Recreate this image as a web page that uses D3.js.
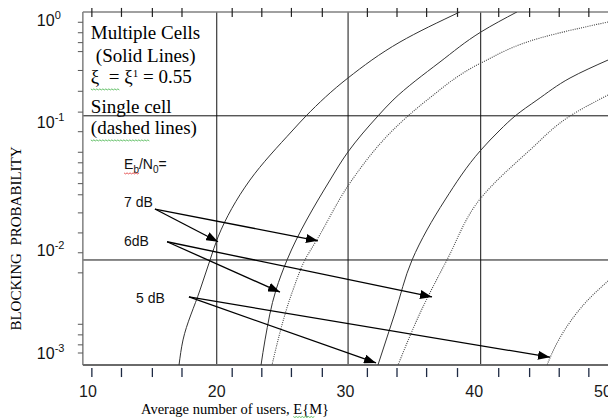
<!DOCTYPE html>
<html>
<head>
<meta charset="utf-8">
<script src="https://cdn.jsdelivr.net/npm/d3@7"></script>
<style>
  body { margin: 0; background: #fff; }
  svg { display: block; }
  .serif { font-family: "Liberation Serif", "Times New Roman", serif; }
  .sans { font-family: "Liberation Sans", Arial, sans-serif; }
</style>
</head>
<body>
<div id="chart"></div>
<script>
// values
var xTickValues = [10, 20, 30, 40, 50];
var xMinorTicks = [10.3, 12.6, 15.0, 17.3, 21.2, 23.5, 25.8, 28.2, 31.7, 34.0, 36.3, 38.7, 41.9, 44.3, 46.6, 48.9];
var xGrid = [20, 30.2, 40.5];
var xExtent = [9.6, 50.4];

var yTickValues = [1, 0.1, 0.01, 0.001];
var yTickExps = ["0", "-1", "-2", "-3"];
var yMinorTicks = [0.95, 0.75, 0.6, 0.49, 0.32, 0.2, 0.125, 0.084, 0.058, 0.048, 0.04, 0.033, 0.027,
                   0.0195, 0.0136, 0.0094, 0.006, 0.0019, 0.0015, 0.0012, 0.001];
var yGrid = [0.115, 0.008];
var yExtent = [1.2, 0.000764];

// multiple cells (solid)
var multi7X = [17.07, 17.38, 18.70, 19.48, 20.10, 22.58, 25.92, 26.93, 30.19, 34.23, 38.89];
var multi7Y = [0.000764, 0.00134, 0.00409, 0.008, 0.01265, 0.0352, 0.0866, 0.1145, 0.27, 0.608, 1.2];
var multi6X = [23.44, 23.75, 24.60, 25.46, 28.80, 30.19, 32.52, 33.69, 37.34, 40.52, 43.32];
var multi6Y = [0.000764, 0.00134, 0.00409, 0.008, 0.0352, 0.0583, 0.1145, 0.164, 0.388, 0.763, 1.2];
var multi5X = [32.52, 33.84, 35.17, 37.73, 40.52, 42.0, 43.17, 44.87, 47.44, 50.39];
var multi5Y = [0.000764, 0.00244, 0.008, 0.0246, 0.0604, 0.0866, 0.1145, 0.164, 0.27, 0.405];

// single cell (dotted)
var single7X = [24.29, 25.92, 26.85, 27.86, 30.50, 33.69, 34.85, 36.33, 40.52, 45.11, 50.39];
var single7Y = [0.000764, 0.00409, 0.008, 0.0124, 0.0352, 0.0866, 0.1145, 0.164, 0.379, 0.666, 0.956];
var single6X = [34.08, 35.79, 37.88, 40.52, 44.33, 47.44, 50.39];
var single6Y = [0.000764, 0.00244, 0.008, 0.0255, 0.0604, 0.1145, 0.184];
var single5X = [45.65, 46.43, 47.44, 48.83, 50.39];
var single5Y = [0.000764, 0.00125, 0.002, 0.00327, 0.005];

// Eb/N0 annotations
var arrowLabels = ["7 dB", "6dB", "5 dB"];
var labelAt = [[12.8, 0.0217], [12.8, 0.0107], [13.73, 0.00305]];
var arrowFrom = [[15.2, 0.0209], [16.14, 0.0116], [17.84, 0.0035]];
var arrowTo = [[[20.1, 0.0116], [27.86, 0.0118]],
               [[24.91, 0.0039], [36.72, 0.0035]],
               [[32.37, 0.0008], [45.88, 0.00091]]];
var ebLabelAt = [12.8, 0.043];

var series = [
  {xs: multi7X, ys: multi7Y, dotted: false},
  {xs: multi6X, ys: multi6Y, dotted: false},
  {xs: multi5X, ys: multi5Y, dotted: false},
  {xs: single7X, ys: single7Y, dotted: true},
  {xs: single6X, ys: single6Y, dotted: true},
  {xs: single5X, ys: single5Y, dotted: true}
];

var width = 608, height = 418;

var x = d3.scaleLinear().domain([10, 50]).range([88, 603]);
// tick labels sit unevenly in the source, so the log scale is piecewise
var y = d3.scaleLog().domain(yTickValues).range([20, 122, 250, 353]);

var plotL = x(xExtent[0]), plotR = x(xExtent[1]);
var plotT = y(yExtent[0]), plotB = y(yExtent[1]);

var svg = d3.select("#chart").append("svg")
    .attr("width", width)
    .attr("height", height);

svg.append("rect").attr("width", width).attr("height", height).attr("fill", "#fff");

var defs = svg.append("defs");
defs.append("clipPath").attr("id", "plotclip")
  .append("rect")
    .attr("x", plotL).attr("y", plotT)
    .attr("width", plotR - plotL).attr("height", plotB - plotT);

defs.append("marker")
    .attr("id", "head")
    .attr("markerUnits", "userSpaceOnUse")
    .attr("markerWidth", 12).attr("markerHeight", 9)
    .attr("refX", 12).attr("refY", 4.5)
    .attr("orient", "auto")
  .append("path")
    .attr("d", "M0,0L12,4.5L0,9Z")
    .attr("fill", "#000");

// grid lines
svg.selectAll(".vgrid").data(xGrid).enter().append("line")
    .attr("class", "vgrid")
    .attr("x1", d => x(d)).attr("x2", d => x(d))
    .attr("y1", plotT).attr("y2", plotB)
    .attr("stroke", "#111").attr("stroke-width", 1);

svg.selectAll(".hgrid").data(yGrid).enter().append("line")
    .attr("class", "hgrid")
    .attr("x1", plotL).attr("x2", plotR)
    .attr("y1", d => y(d)).attr("y2", d => y(d))
    .attr("stroke", "#111").attr("stroke-width", 1);

// frame
svg.append("line").attr("x1", plotL).attr("x2", plotR).attr("y1", plotT).attr("y2", plotT)
    .attr("stroke", "#808080").attr("stroke-width", 1.5);
svg.append("line").attr("x1", plotL).attr("x2", plotL).attr("y1", plotT).attr("y2", plotB)
    .attr("stroke", "#808080").attr("stroke-width", 1.5);
svg.append("line").attr("x1", plotL).attr("x2", plotR).attr("y1", plotB).attr("y2", plotB)
    .attr("stroke", "#6a6a6a").attr("stroke-width", 2);

// ticks on top and below the bottom edge
svg.selectAll(".ttick").data(xMinorTicks).enter().append("line")
    .attr("x1", d => x(d)).attr("x2", d => x(d))
    .attr("y1", plotT - 4).attr("y2", plotT + 5)
    .attr("stroke", "#222").attr("stroke-width", 1.2);
svg.selectAll(".btick").data(xMinorTicks).enter().append("line")
    .attr("x1", d => x(d)).attr("x2", d => x(d))
    .attr("y1", plotB + 3).attr("y2", plotB + 12)
    .attr("stroke", "#1e2a44").attr("stroke-width", 1.3);

// left minor ticks
svg.selectAll(".ltick").data(yMinorTicks).enter().append("line")
    .attr("x1", plotL - 5).attr("x2", plotL)
    .attr("y1", d => y(d)).attr("y2", d => y(d))
    .attr("stroke", "#555").attr("stroke-width", 1);

// x tick labels
svg.selectAll(".xlab").data(xTickValues).enter().append("text")
    .attr("class", "sans")
    .attr("x", d => x(d)).attr("y", plotB + 32)
    .attr("text-anchor", "middle")
    .attr("font-size", 16).attr("fill", "#1a1a1a")
    .text(d => d);

// y tick labels as 10^n
var ylab = svg.selectAll(".ylab").data(yTickValues).enter().append("text")
    .attr("class", "sans")
    .attr("x", plotL - 46).attr("y", d => y(d) + 6)
    .attr("font-size", 16).attr("fill", "#111");
ylab.append("tspan").text("10");
ylab.append("tspan").attr("dy", -7).attr("font-size", 11).text((d, i) => yTickExps[i]);

// curves: monotone in y gives the smooth arcs of the source
var line = d3.line()
    .x(d => x(d[0]))
    .y(d => y(d[1]))
    .curve(d3.curveMonotoneY);

var plot = svg.append("g").attr("clip-path", "url(#plotclip)");
plot.selectAll(".curve").data(series).enter().append("path")
    .attr("class", "curve")
    .attr("d", s => line(s.xs.map((v, i) => [v, s.ys[i]]).reverse()))
    .attr("fill", "none")
    .attr("stroke", s => s.dotted ? "#444" : "#333")
    .attr("stroke-width", s => s.dotted ? 1.1 : 1)
    .attr("stroke-dasharray", s => s.dotted ? "1,1.2" : null);

// arrows
arrowTo.forEach(function(ends, i) {
  ends.forEach(function(e) {
    svg.append("line")
        .attr("x1", x(arrowFrom[i][0])).attr("y1", y(arrowFrom[i][1]))
        .attr("x2", x(e[0])).attr("y2", y(e[1]))
        .attr("stroke", "#000").attr("stroke-width", 1.3)
        .attr("marker-end", "url(#head)");
  });
});

svg.selectAll(".alab").data(arrowLabels).enter().append("text")
    .attr("class", "sans")
    .attr("x", (d, i) => x(labelAt[i][0])).attr("y", (d, i) => y(labelAt[i][1]))
    .attr("font-size", 14).attr("fill", "#111")
    .text(d => d);

// wavy underline helper (spell-check marks in the source)
function squiggle(x0, x1, yy, color) {
  var pts = [];
  for (var px = x0, k = 0; px <= x1; px += 1.5, k++) pts.push([px, yy + (k % 2 ? 1 : 0)]);
  svg.append("path").attr("d", d3.line()(pts))
      .attr("fill", "none").attr("stroke", color).attr("stroke-width", 0.8);
}

var eb = svg.append("text").attr("class", "sans")
    .attr("x", x(ebLabelAt[0])).attr("y", y(ebLabelAt[1]))
    .attr("font-size", 14).attr("fill", "#111");
var ebE = eb.append("tspan").text("E");
var ebB = eb.append("tspan").attr("dy", 4).attr("font-size", 10).text("b");
eb.append("tspan").attr("dy", -4).text("/N");
eb.append("tspan").attr("dy", 4).attr("font-size", 10).text("0");
eb.append("tspan").attr("dy", -4).text("=");
var bE = ebE.node().getBBox(), bB = ebB.node().getBBox();
squiggle(bE.x, bB.x + bB.width, y(ebLabelAt[1]) + 4, "#e03030");

// legend block
var lx = plotL + 8;
var legend = svg.append("g").attr("class", "serif").attr("font-size", 19).attr("fill", "#000");
legend.append("text").attr("x", lx).attr("y", plotT + 27).text("Multiple Cells");
legend.append("text").attr("x", lx + 5).attr("y", plotT + 50).text("(Solid Lines)");
var xi = legend.append("text").attr("x", lx).attr("y", plotT + 71).style("white-space", "pre");
var xiA = xi.append("tspan").text("\u03be  =");
xi.append("tspan").text(" \u03be");
xi.append("tspan").attr("dy", -6).attr("font-size", 11).text("1");
xi.append("tspan").attr("dy", 6).text(" = 0.55");
legend.append("text").attr("x", lx).attr("y", plotT + 101).text("Single cell");
var dl = legend.append("text").attr("x", lx).attr("y", plotT + 122);
var dlA = dl.append("tspan").text("(dashed");
dl.append("tspan").text(" lines)");
var b1 = xiA.node().getBBox();
squiggle(b1.x, b1.x + b1.width, plotT + 77, "#3cb043");
var b2 = dlA.node().getBBox();
squiggle(b2.x, b2.x + b2.width, plotT + 128, "#3cb043");

// axis titles
svg.append("text").attr("class", "serif")
    .attr("transform", "translate(" + 21 + "," + ((plotT + plotB) / 2 + 50) + ") rotate(-90)")
    .attr("text-anchor", "middle")
    .attr("font-size", 15)
    .style("white-space", "pre")
    .text("BLOCKING  PROBABILITY");

var xt = svg.append("text").attr("class", "serif")
    .attr("x", 235).attr("y", height - 4)
    .attr("text-anchor", "middle")
    .attr("font-size", 14.5);
xt.append("tspan").text("Average number of users, ");
var em = xt.append("tspan").text("E{M}");
var b3 = em.node().getBBox();
squiggle(b3.x, b3.x + b3.width * 0.6, height - 1.5, "#3cb043");
</script>
</body>
</html>
